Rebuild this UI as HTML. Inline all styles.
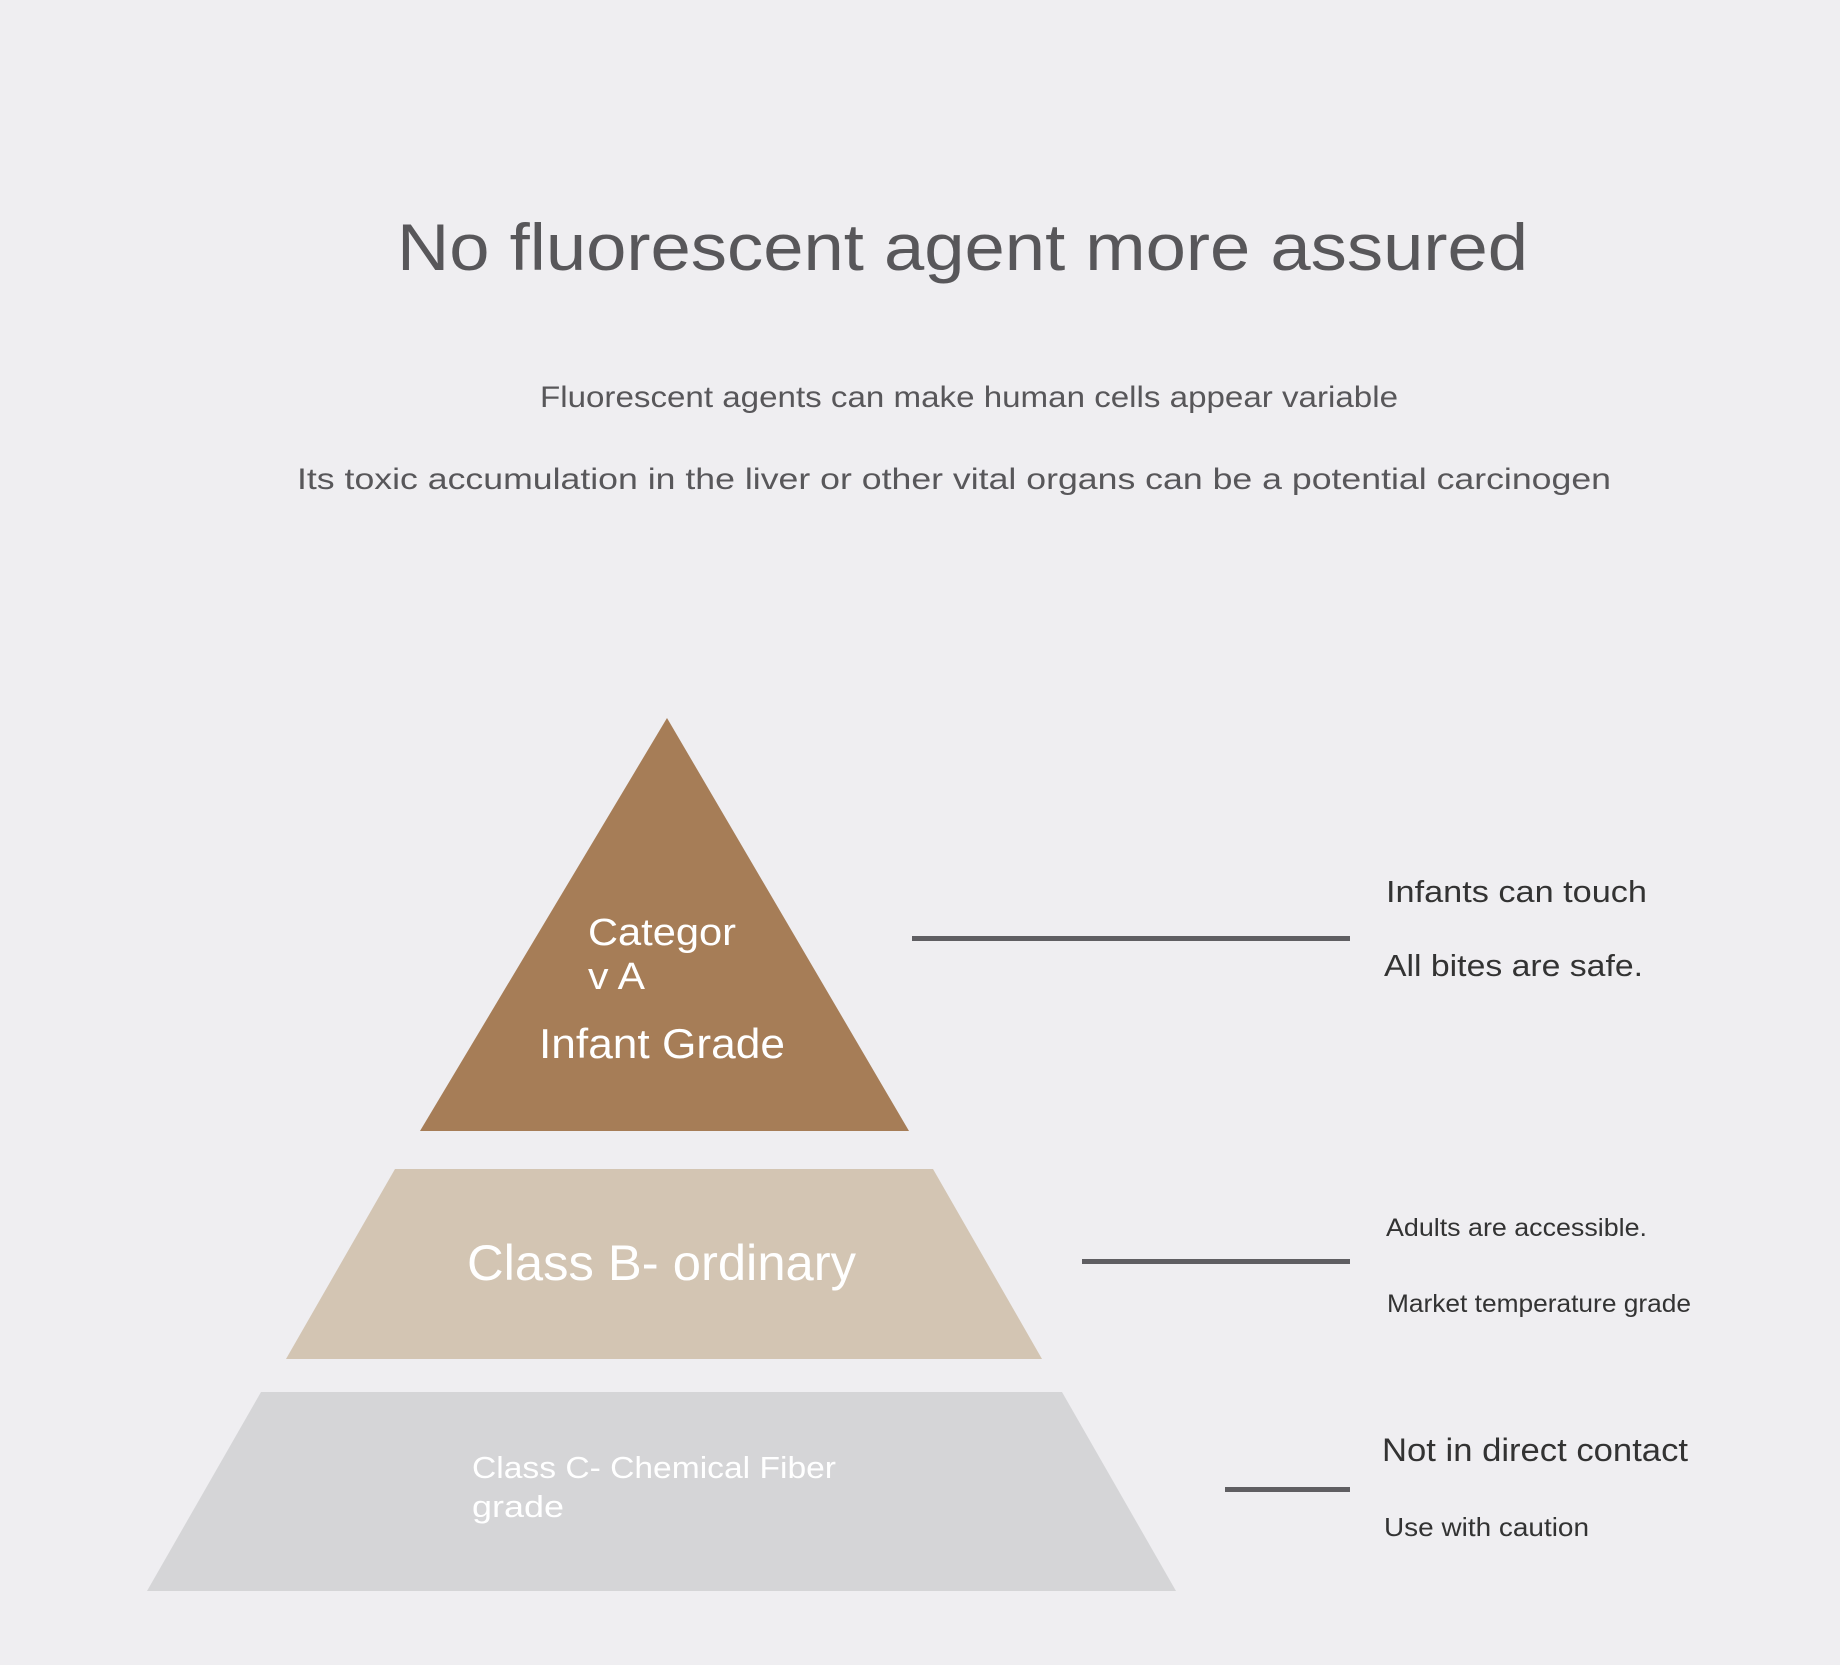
<!DOCTYPE html>
<html><head><meta charset="utf-8"><style>
html,body{margin:0;padding:0;background:#efeef1;}
svg{display:block}
text{font-family:"Liberation Sans","DejaVu Sans",sans-serif;}
</style></head><body>
<svg width="1840" height="1665" viewBox="0 0 1840 1665" xmlns="http://www.w3.org/2000/svg">
<rect width="1840" height="1665" fill="#efeef1"/>
<text x="397" y="270" font-size="66" fill="#58575a" textLength="1131" lengthAdjust="spacingAndGlyphs">No fluorescent agent more assured</text>
<text x="540" y="407" font-size="30" fill="#58575a" textLength="858" lengthAdjust="spacingAndGlyphs">Fluorescent agents can make human cells appear variable</text>
<text x="297" y="489" font-size="30" fill="#58575a" textLength="1314" lengthAdjust="spacingAndGlyphs">Its toxic accumulation in the liver or other vital organs can be a potential carcinogen</text>

<polygon points="667,718 909,1131 420,1131" fill="#a67d57"/>
<polygon points="395,1169 933,1169 1042,1359 286,1359" fill="#d3c5b3"/>
<polygon points="261,1392 1062,1392 1176,1591 147,1591" fill="#d5d5d7"/>

<text x="588" y="945" font-size="38" fill="#fff" textLength="148" lengthAdjust="spacingAndGlyphs">Categor</text>
<text x="588" y="989" font-size="38" fill="#fff" textLength="57" lengthAdjust="spacingAndGlyphs">v A</text>
<text x="539" y="1058" font-size="42" fill="#fff" textLength="246" lengthAdjust="spacingAndGlyphs">Infant Grade</text>
<text x="467" y="1280" font-size="50" fill="#fff" textLength="389" lengthAdjust="spacingAndGlyphs">Class B- ordinary</text>
<text x="472" y="1478" font-size="31" fill="#fff" textLength="364" lengthAdjust="spacingAndGlyphs">Class C- Chemical Fiber</text>
<text x="472" y="1517" font-size="31" fill="#fff" textLength="92" lengthAdjust="spacingAndGlyphs">grade</text>

<rect x="912" y="936" width="438" height="5" fill="#5f5e62"/>
<rect x="1082" y="1259" width="268" height="5" fill="#5f5e62"/>
<rect x="1225" y="1487" width="125" height="5" fill="#5f5e62"/>

<text x="1386" y="902" font-size="31" fill="#333" textLength="261" lengthAdjust="spacingAndGlyphs">Infants can touch</text>
<text x="1384" y="976" font-size="31" fill="#333" textLength="259" lengthAdjust="spacingAndGlyphs">All bites are safe.</text>
<text x="1386" y="1236" font-size="25" fill="#333" textLength="261" lengthAdjust="spacingAndGlyphs">Adults are accessible.</text>
<text x="1387" y="1312" font-size="25" fill="#333" textLength="304" lengthAdjust="spacingAndGlyphs">Market temperature grade</text>
<text x="1382" y="1461" font-size="32" fill="#333" textLength="306" lengthAdjust="spacingAndGlyphs">Not in direct contact</text>
<text x="1384" y="1536" font-size="26" fill="#333" textLength="205" lengthAdjust="spacingAndGlyphs">Use with caution</text>
</svg>
</body></html>
